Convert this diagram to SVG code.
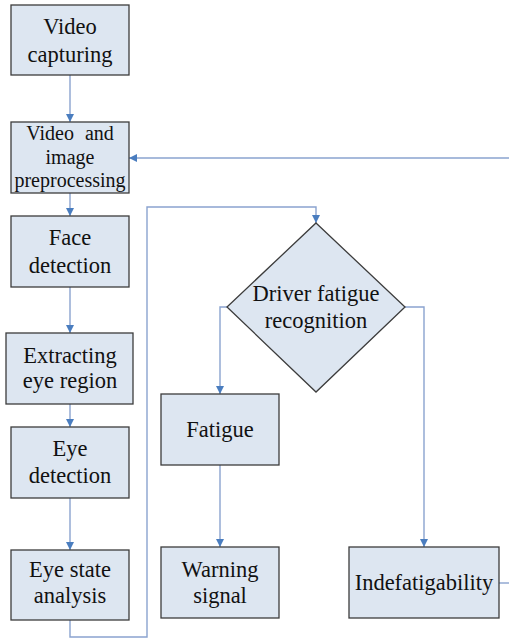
<svg xmlns="http://www.w3.org/2000/svg" width="509" height="639" viewBox="0 0 509 639">
<style>
.n{fill:#dde6f1;stroke:#3c3c3c;stroke-width:1.3}
.t{font-size:22.5px;fill:#111;text-anchor:middle}
.s{font-size:20px}
.c{fill:none;stroke:#8aa3cf;stroke-width:1.4}
</style>
<defs>
<marker id="a" markerWidth="10" markerHeight="10" refX="8" refY="4" orient="auto" markerUnits="userSpaceOnUse">
<path d="M0,0 L8,4 L0,8 Z" fill="#4a7dbf"/>
</marker>
</defs>
<rect width="509" height="639" fill="#fff"/>
<g id="connectors">
<path class="c" d="M70,75 V122" marker-end="url(#a)"/>
<path class="c" d="M509,158 H129" marker-end="url(#a)"/>
<path class="c" d="M70,193 V216" marker-end="url(#a)"/>
<path class="c" d="M70,287 V333" marker-end="url(#a)"/>
<path class="c" d="M70,404 V427" marker-end="url(#a)"/>
<path class="c" d="M70,498 V550" marker-end="url(#a)"/>
<path class="c" d="M70,620 V637 H147 V207 H316 V223" marker-end="url(#a)"/>
<path class="c" d="M227,307 H220 V394" marker-end="url(#a)"/>
<path class="c" d="M405,307 H424 V547" marker-end="url(#a)"/>
<path class="c" d="M220,465 V547" marker-end="url(#a)"/>
<path class="c" d="M499,583 H509"/>
</g>
<g font-family="Liberation Serif, DejaVu Serif, serif">
<g id="video_capturing">
<rect class="n" x="11" y="5" width="118" height="70"/>
<text class="t" x="70" y="34">Video</text>
<text class="t" x="70" y="62">capturing</text>
</g>
<g id="preprocessing">
<rect class="n" x="11" y="122" width="118" height="71"/>
<text class="t s" x="70" y="140" word-spacing="6">Video and</text>
<text class="t s" x="70" y="164">image</text>
<text class="t s" x="70" y="187">preprocessing</text>
</g>
<g id="face_detection">
<rect class="n" x="11" y="216" width="118" height="71"/>
<text class="t" x="70" y="245">Face</text>
<text class="t" x="70" y="273">detection</text>
</g>
<g id="extracting">
<rect class="n" x="6" y="333" width="127" height="71"/>
<text class="t" x="70" y="363">Extracting</text>
<text class="t" x="70" y="388">eye region</text>
</g>
<g id="eye_detection">
<rect class="n" x="11" y="427" width="118" height="71"/>
<text class="t" x="70" y="456">Eye</text>
<text class="t" x="70" y="483">detection</text>
</g>
<g id="eye_state">
<rect class="n" x="11" y="550" width="118" height="70"/>
<text class="t" x="70" y="577">Eye state</text>
<text class="t" x="70" y="603">analysis</text>
</g>
<g id="driver_fatigue">
<path class="n" d="M316,223 L405,307 L316,392 L227,307 Z"/>
<text class="t" x="316" y="301">Driver fatigue</text>
<text class="t" x="316" y="328">recognition</text>
</g>
<g id="fatigue">
<rect class="n" x="161" y="394" width="118" height="71"/>
<text class="t" x="220" y="437">Fatigue</text>
</g>
<g id="warning">
<rect class="n" x="161" y="547" width="118" height="71"/>
<text class="t" x="220" y="577">Warning</text>
<text class="t" x="220" y="603">signal</text>
</g>
<g id="indefatigability">
<rect class="n" x="349" y="547" width="150" height="71"/>
<text class="t" x="424" y="590">Indefatigability</text>
</g>
</g>
</svg>
